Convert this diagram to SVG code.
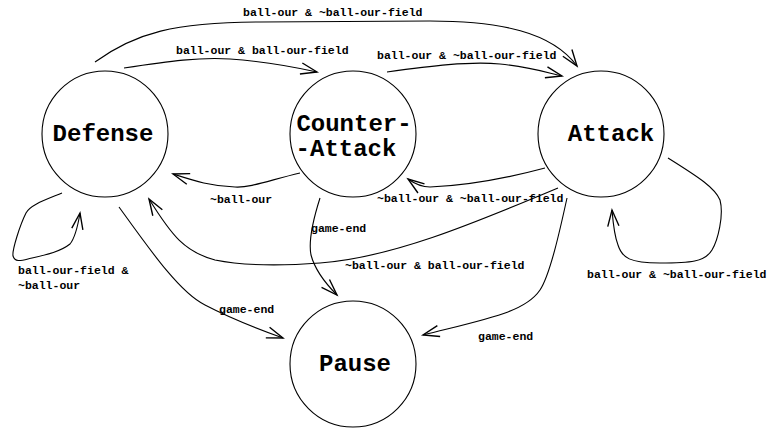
<svg xmlns="http://www.w3.org/2000/svg" width="769" height="429" viewBox="0 0 769 429">
  <style>
    .state { fill: #fff; stroke: #000; stroke-width: 1.1; }
    .name { font-family: "Liberation Mono", "Courier New", monospace; font-weight: bold; font-size: 24px; fill: #000; text-anchor: middle; }
    .edge { fill: none; stroke: #000; stroke-width: 1.1; marker-end: url(#arrow); }
    .lbl { font-family: "Liberation Mono", "Courier New", monospace; font-weight: bold; font-size: 11.5px; fill: #000; }
  </style>
  <defs>
    <marker id="arrow" markerUnits="userSpaceOnUse" markerWidth="20" markerHeight="20" refX="0" refY="0" viewBox="-14 -8 16 16" orient="auto" overflow="visible">
      <path d="M-13,-4.5 L0,0 L-13,4.5" fill="none" stroke="#000" stroke-width="1.1"/>
    </marker>
  </defs>
  <rect width="769" height="429" fill="#fff"/>

  <g id="states">
    <g id="defense">
      <circle class="state" cx="105" cy="134" r="63"/>
      <text class="name" x="103" y="141">Defense</text>
    </g>
    <g id="counter-attack">
      <circle class="state" cx="353" cy="134" r="63"/>
      <text class="name" x="354" y="131">Counter-</text>
      <text class="name" x="346" y="156">-Attack</text>
    </g>
    <g id="attack">
      <circle class="state" cx="601" cy="134" r="63"/>
      <text class="name" x="611" y="141">Attack</text>
    </g>
    <g id="pause">
      <circle class="state" cx="353" cy="364" r="63"/>
      <text class="name" x="355" y="371">Pause</text>
    </g>
  </g>

  <g id="connectors">
    <!-- Defense -> Attack -->
    <path class="edge" d="M95,62 C135,33 175,22 260,22 L430,21 C500,21 552,32 577,66"/>
    <!-- Defense -> Counter-Attack -->
    <path class="edge" d="M124,68 C170,61 200,57 230,59 C260,61 290,66 317,72"/>
    <!-- Counter-Attack -> Attack -->
    <path class="edge" d="M387,72 C430,66 470,61 500,64 C530,67 545,72 562,76"/>
    <!-- Counter-Attack -> Defense -->
    <path class="edge" d="M300,173 C270,180 250,188 235,187 C210,186 195,181 173,174"/>
    <!-- Attack -> Counter-Attack -->
    <path class="edge" d="M545,168 C500,180 460,186 430,187 C421,187 415,184 408,179"/>
    <!-- Attack -> Defense -->
    <path class="edge" d="M558,188 C470,225 390,258 320,263 C280,266 240,265 215,260 C185,252 172,236 149,199"/>
    <!-- Defense self loop -->
    <path class="edge" d="M62,193 C45,200 30,205 26,213 C20,225 12,250 13,256 C15,262 20,261 28,259 C45,255 60,252 70,244 C75,238 78,225 80,213"/>
    <!-- Defense -> Pause -->
    <path class="edge" d="M119,207 C150,250 180,293 205,305 C230,318 255,328 283,338"/>
    <!-- Counter-Attack -> Pause -->
    <path class="edge" d="M320,198 C313,220 308,240 311,255 C315,270 325,283 337,295"/>
    <!-- Attack -> Pause -->
    <path class="edge" d="M567,198 C560,230 550,275 540,290 C525,312 490,318 423,335"/>
    <!-- Attack self loop -->
    <path class="edge" d="M668,158 C700,178 715,188 720,200 C724,215 718,240 712,250 C705,262 690,263 660,263 C630,263 622,258 618,245 C614,235 613,222 612,210"/>
  </g>

  <g id="labels">
    <text class="lbl" x="243" y="16">ball-our &amp; ~ball-our-field</text>
    <text class="lbl" x="176" y="54">ball-our &amp; ball-our-field</text>
    <text class="lbl" x="377" y="59">ball-our &amp; ~ball-our-field</text>
    <text class="lbl" x="210" y="203">~ball-our</text>
    <text class="lbl" x="377" y="202">~ball-our &amp; ~ball-our-field</text>
    <text class="lbl" x="311" y="232">game-end</text>
    <text class="lbl" x="345" y="269">~ball-our &amp; ball-our-field</text>
    <text class="lbl" x="18" y="274">ball-our-field &amp;</text>
    <text class="lbl" x="18" y="289">~ball-our</text>
    <text class="lbl" x="219" y="313">game-end</text>
    <text class="lbl" x="478" y="340">game-end</text>
    <text class="lbl" x="587" y="278">ball-our &amp; ~ball-our-field</text>
  </g>
</svg>
